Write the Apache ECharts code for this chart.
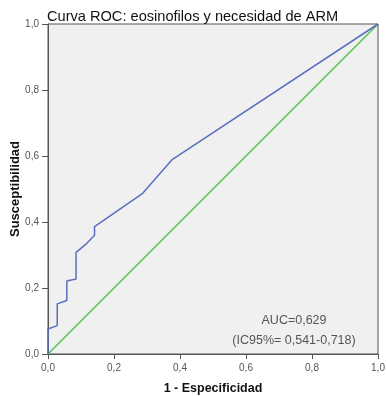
<!DOCTYPE html>
<html><head><meta charset="utf-8">
<script src="https://cdn.jsdelivr.net/npm/echarts@6/dist/echarts.min.js"></script>
<style>html,body{margin:0;padding:0;background:#fff}#c{width:386px;height:396px}</style>
</head><body><div id="c"></div>
<script>
const rocFpr = [0, 0, 0.028, 0.028, 0.057, 0.057, 0.085, 0.085, 0.114, 0.141, 0.141, 0.287, 0.375, 1];
const rocTpr = [0, 0.076, 0.086, 0.152, 0.162, 0.221, 0.227, 0.308, 0.332, 0.36, 0.386, 0.487, 0.588, 1];
const refX = [0, 1];
const refY = [0, 1];
const axisTicks = [0, 0.2, 0.4, 0.6, 0.8, 1.0];
const titleText = 'Curva ROC: eosinofilos y necesidad de ARM';
const xName = '1 - Especificidad';
const yName = 'Susceptibilidad';
const aucLines = ['AUC=0,629', '(IC95%= 0,541-0,718)'];

const fmt = v => v.toFixed(1).replace('.', ',');
const chart = echarts.init(document.getElementById('c'), null, {renderer: 'canvas'});
const labelStyle = {formatter: fmt, color: '#555', fontSize: 10, fontFamily: 'Liberation Sans'};
const axisCommon = {
  type: 'value', min: 0, max: 1, interval: 0.2,
  axisLine: {show: true, lineStyle: {color: '#555', width: 1}},
  axisTick: {show: true, length: 6, lineStyle: {color: '#555'}},
  splitLine: {show: false},
  nameLocation: 'middle',
  nameTextStyle: {color: '#111', fontWeight: 'bold', fontSize: 12.5, fontFamily: 'Liberation Sans'}
};
chart.setOption({
  animation: false,
  title: {text: titleText, left: 42, top: 4, textStyle: {fontSize: 14.6, fontWeight: 'normal', color: '#111', fontFamily: 'Liberation Sans'}},
  grid: {left: 48, top: 24, width: 330, height: 330, containLabel: false, outerBoundsMode: 'none', show: true, backgroundColor: '#f0f0f0', borderColor: '#555', borderWidth: 1},
  xAxis: Object.assign({}, axisCommon, {name: xName, nameGap: 28, axisTick: {show: true, length: 5, lineStyle: {color: '#555'}}, axisLabel: Object.assign({}, labelStyle, {margin: 9})}),
  yAxis: Object.assign({}, axisCommon, {axisLabel: Object.assign({}, labelStyle, {margin: 9})}),
  series: [
    {type: 'line', data: refX.map((x, i) => [x, refY[i]]), symbol: 'none', lineStyle: {color: '#4cc44c', width: 1.5}, z: 2},
    {type: 'line', data: rocFpr.map((x, i) => [x, rocTpr[i]]), symbol: 'none', lineStyle: {color: '#5a6fbf', width: 1.5}, z: 3}
  ],
  graphic: [{
    type: 'text', x: 294, y: 331,
    style: {text: aucLines.join('\n'), fill: '#555', fontSize: 12.5, lineHeight: 20, align: 'center', verticalAlign: 'middle', fontFamily: 'Liberation Sans'}
  }, {
    type: 'text', x: 15, y: 189, rotation: Math.PI / 2,
    style: {text: yName, fill: '#111', fontSize: 13, fontWeight: 'bold', align: 'center', verticalAlign: 'middle', fontFamily: 'Liberation Sans'}
  }]
});
</script></body></html>
